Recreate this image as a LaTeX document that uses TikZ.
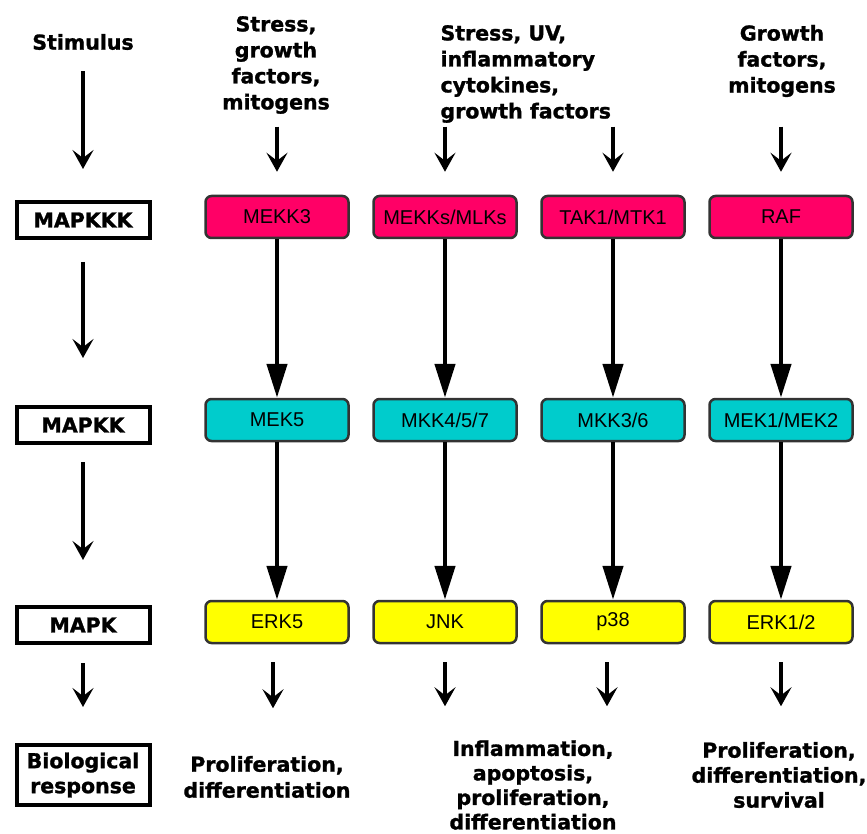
\documentclass[tikz,border=0pt]{standalone}
\usepackage{fontspec}
\setmainfont{Liberation Sans}
\newfontfamily\cuefont{DejaVu Sans}[BoldFeatures={FakeBold=1.3}]
\usepackage{xcolor}
\usetikzlibrary{arrows.meta}
\definecolor{kkkpink}{RGB}{255,0,102}
\definecolor{kkcyan}{RGB}{0,204,204}
\definecolor{kyellow}{RGB}{255,255,0}

\begin{document}
\begin{tikzpicture}[x=1pt,y=-1pt]
		\tikzset{level/.style = {draw, line width=4pt, minimum width=133pt, minimum height=36pt, inner sep=2pt, align=center, font=\cuefont\bfseries\fontsize{20.5}{25}\selectfont}}
		\tikzset{kinase/.style = {draw=black!80, line width=2.5pt, rounded corners=6pt, minimum width=143pt, minimum height=42pt, font=\fontsize{20}{22}\selectfont}}
		\tikzset{cue/.style = {align=center, font=\cuefont\bfseries\fontsize{20.5}{26}\selectfont}}
		\tikzset{pointer/.style = {line width=4.5pt, -{Stealth[length=19pt,width=21pt,inset=8pt]}}}
		\tikzset{link/.style = {line width=4.5pt, -{Triangle[length=34pt,width=20pt]}}}

		\useasboundingbox (0,0) rectangle (867,834);

		% left column
		\node[cue] (stim) at (83,42) {Stimulus};
		\node[level] (L_1) at (83,220) {MAPKKK};
		\node[level] (L_2) at (83,425) {MAPKK};
		\node[level] (L_3) at (83,625) {MAPK};
		\node[level, minimum height=60pt] (L_4) at (83,775) {Biological\\response};

		\draw[pointer, shorten <=18pt, shorten >=31pt] (stim) to (L_1);
		\draw[pointer, shorten <=22pt, shorten >=47pt] (L_1) to (L_2);
		\draw[pointer, shorten <=17pt, shorten >=45pt] (L_2) to (L_3);
		\draw[pointer, shorten <=18pt, shorten >=36pt] (L_3) to (L_4);

		% stimuli
		\node[cue] (S_1) at (276,65) {Stress,\\growth\\factors,\\mitogens};
		\node[cue, align=left, anchor=west] (S_2) at (437,74) {Stress, UV,\\inflammatory\\cytokines,\\growth factors};
		\node[cue] (S_3) at (782,61) {Growth\\factors,\\mitogens};

		% MAPKKK
		\node[kinase, fill=kkkpink] (K_1) at (277,217) {MEKK3};
		\node[kinase, fill=kkkpink] (K_2) at (445,217) {MEKKs/MLKs};
		\node[kinase, fill=kkkpink] (K_3) at (613,217) {TAK1/MTK1};
		\node[kinase, fill=kkkpink] (K_4) at (781,217) {RAF};

		% MAPKK
		\node[kinase, fill=kkcyan] (KK_1) at (277,420) {MEK5};
		\node[kinase, fill=kkcyan] (KK_2) at (445,420) {MKK4/5/7};
		\node[kinase, fill=kkcyan] (KK_3) at (613,420) {MKK3/6};
		\node[kinase, fill=kkcyan] (KK_4) at (781,420) {MEK1/MEK2};

		% MAPK
		\node[kinase, fill=kyellow] (M_1) at (277,622) {ERK5};
		\node[kinase, fill=kyellow] (M_2) at (445,622) {JNK};
		\node[kinase, fill=kyellow] (M_3) at (613,622) {p38};
		\node[kinase, fill=kyellow] (M_4) at (781,622) {ERK1/2};

		% responses
		\node[cue] (R_1) at (267,777) {Proliferation,\\differentiation};
		\node[cue, font=\cuefont\bfseries\fontsize{20.5}{24.5}\selectfont] (R_2) at (533,785) {Inflammation,\\apoptosis,\\proliferation,\\differentiation};
		\node[cue, font=\cuefont\bfseries\fontsize{20.5}{25}\selectfont] (R_3) at (779,775) {Proliferation,\\differentiation,\\survival};

		\draw[pointer, shorten >=23pt] (K_1.north) ++(0,-68) -- (K_1.north);
		\draw[pointer, shorten >=23pt] (K_2.north) ++(0,-68) -- (K_2.north);
		\draw[pointer, shorten >=23pt] (K_3.north) ++(0,-68) -- (K_3.north);
		\draw[pointer, shorten >=23pt] (K_4.north) ++(0,-68) -- (K_4.north);

		\draw[link] (K_1) to (KK_1);
		\draw[link] (K_2) to (KK_2);
		\draw[link] (K_3) to (KK_3);
		\draw[link] (K_4) to (KK_4);

		\draw[link] (KK_1) to (M_1);
		\draw[link] (KK_2) to (M_2);
		\draw[link] (KK_3) to (M_3);
		\draw[link] (KK_4) to (M_4);

		\draw[pointer, shorten <=18pt] (M_1.south) ++(-4,0) -- ++(0,64);
		\draw[pointer, shorten <=18pt] (M_2.south) -- ++(0,62);
		\draw[pointer, shorten <=18pt] (M_3.south) ++(-6,0) -- ++(0,62);
		\draw[pointer, shorten <=18pt] (M_4.south) -- ++(0,62);
	\end{tikzpicture}
\end{document}
